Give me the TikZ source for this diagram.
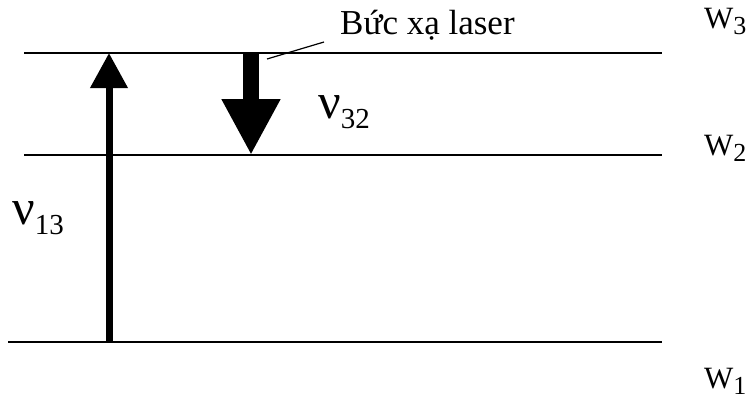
\documentclass[tikz,border=0pt]{standalone}
\usepackage{fontspec}
\setmainfont{Liberation Serif}
\usetikzlibrary{arrows.meta}
\usetikzlibrary{scopes}
\newcommand{\lev}[2]{#1\raisebox{-6pt}{\fontsize{26}{26}\selectfont #2}}
\newcommand{\freq}[1]{{\fontsize{50}{50}\selectfont ν}\raisebox{-10pt}{\fontsize{29}{29}\selectfont #1}}

\begin{document}
\begin{tikzpicture}[x=1pt,y=-1pt,
		lbl/.style={anchor=base west,inner sep=0pt,font=\fontsize{31}{34}\selectfont}]
		\useasboundingbox (0,0) rectangle (752,400);
		\coordinate (a3) at (24,53);  \coordinate (b3) at (662,53);
		\coordinate (a2) at (24,155); \coordinate (b2) at (662,155);
		\coordinate (a1) at (8,342);  \coordinate (b1) at (662,342);
		\begin{scope}[line width=2pt]
			\draw (a3) -- (b3);
			\draw (a2) -- (b2);
			\draw (a1) -- (b1);
		\end{scope}
		\coordinate (up1) at (109,342); \coordinate (up3) at (109,53);
		\coordinate (dn3) at (251,53);  \coordinate (dn2) at (251,155);
		\begin{scope}[black]
			\draw[line width=7pt,-{Triangle[length=35pt,width=36pt]}] (up1) -- (up3);
			\draw[line width=16pt,-{Triangle[length=56pt,width=55pt]}] (dn3) -- (dn2);
		\end{scope}
		\node[lbl] (w3) at (704,28) {\lev{W}{3}};
		\node[lbl] (w2) at (704,155) {\lev{W}{2}};
		\node[lbl] (w1) at (704,388) {\lev{W}{1}};
		\node[lbl,font=\fontsize{35}{38}\selectfont] (laser) at (340,34) {Bức xạ laser};
		\node[lbl] (n32) at (318,118) {\freq{32}};
		\node[lbl] (n13) at (12,224) {\freq{13}};
		\coordinate (lead) at (267,59);
		\draw[line width=1.2pt] (lead) -- ([shift={(-16,8)}]laser.base west);
	\end{tikzpicture}
\end{document}
